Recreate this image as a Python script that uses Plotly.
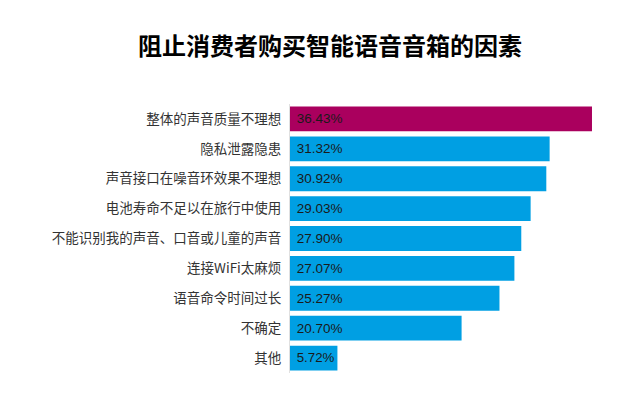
import plotly.graph_objects as go

categories = ["整体的声音质量不理想", "隐私泄露隐患", "声音接口在噪音环效果不理想",
              "电池寿命不足以在旅行中使用", "不能识别我的声音、口音或儿童的声音",
              "连接WiFi太麻烦", "语音命令时间过长", "不确定", "其他"]
values = [36.43, 31.32, 30.92, 29.03, 27.90, 27.07, 25.27, 20.70, 5.72]
labels = ["36.43%", "31.32%", "30.92%", "29.03%", "27.90%", "27.07%", "25.27%", "20.70%", "5.72%"]
colors = ["#AA005E"] + ["#009FE3"] * (len(values) - 1)

fig = go.Figure(go.Bar(
    y=categories, x=values, orientation="h",
    marker=dict(color=colors, line=dict(width=0)),
    text=["\u00a0" + t for t in labels], textposition="inside", insidetextanchor="start",
    textfont=dict(family="Liberation Sans, Arial", size=13.5, color="#1a1a1a"),
    cliponaxis=False,
))
fig.update_layout(
    width=630, height=407,
    margin=dict(l=290, r=25, t=104, b=34),
    paper_bgcolor="white", plot_bgcolor="white",
    title=dict(text="<b>阻止消费者购买智能语音音箱的因素</b>", x=0.524, xanchor="center",
               y=0.885, yanchor="middle",
               font=dict(family="Noto Sans CJK SC", size=24, color="#000")),
    bargap=0.17,
    showlegend=False,
    uniformtext=dict(mode=False),
)
fig.update_xaxes(range=[0, 38], visible=False)
fig.update_yaxes(autorange="reversed", showline=True, linecolor="#e0e0e0", linewidth=1,
                 ticks="", ticklabelstandoff=5,
                 tickfont=dict(family="Noto Sans CJK SC", size=13.5, color="#333"))
fig.write_html("out.html")
